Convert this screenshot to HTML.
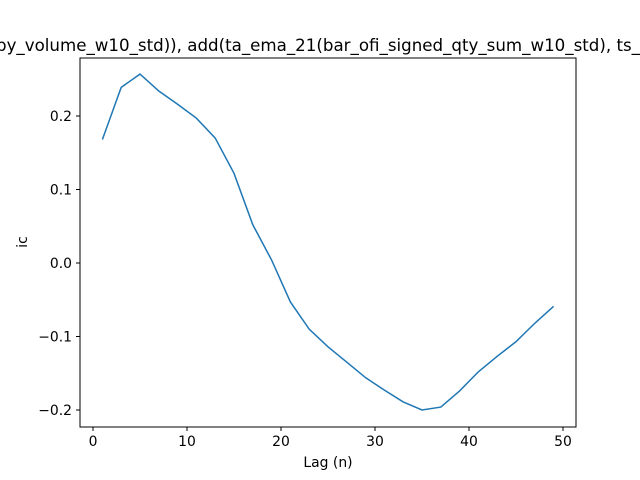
<!DOCTYPE html>
<html><head><meta charset="utf-8"><style>body{margin:0;background:#fff}svg{display:block}</style></head>
<body>
<svg id="chart" width="640" height="480" xmlns="http://www.w3.org/2000/svg" font-family="DejaVu Sans, Liberation Sans, sans-serif">
<rect width="640" height="480" fill="#fff"/>
<text x="-4" y="51" font-size="16.7" textLength="644" lengthAdjust="spacingAndGlyphs">by_volume_w10_std)), add(ta_ema_21(bar_ofi_signed_qty_sum_w10_std), ts_</text>
<g id="plot"></g>
<rect x="80" y="58" width="496" height="369" fill="none" stroke="#000" stroke-width="1"/>
<text x="328" y="467" font-size="13.9" text-anchor="middle">Lag (n)</text>
<text x="27" y="242" font-size="13.9" text-anchor="middle" transform="rotate(-90 27 242)">ic</text>
</svg>
<script>
const lags=[1,3,5,7,9,11,13,15,17,19,21,23,25,27,29,31,33,35,37,39,41,43,45,47,49];
const ic=[0.168,0.239,0.257,0.234,0.216,0.197,0.170,0.122,0.052,0.004,-0.053,-0.090,-0.114,-0.135,-0.156,-0.173,-0.189,-0.200,-0.196,-0.174,-0.148,-0.127,-0.107,-0.082,-0.059];
const xTicks=[0,10,20,30,40,50];
const yTicks=[-0.2,-0.1,0.0,0.1,0.2];
const xs=v=>93+v*9.4;
const ys=v=>263-v*735;
const NS="http://www.w3.org/2000/svg";
const g=document.getElementById('plot');
function mk(t,a){const e=document.createElementNS(NS,t);for(const k in a)e.setAttribute(k,a[k]);g.appendChild(e);return e;}
xTicks.forEach(t=>{
 const l=mk('line',{x1:xs(t),x2:xs(t),y1:427,y2:431,stroke:'#000'});
 
 
 const s=mk('text',{x:xs(t),y:446,'font-size':13.9,'text-anchor':'middle'});
 s.textContent=t;
 
 
});
yTicks.forEach(t=>{
 const l=mk('line',{x1:76,x2:80,y1:ys(t),y2:ys(t),stroke:'#000'});
 
 
 const s=mk('text',{x:72,y:ys(t)+5,'font-size':13.9,'text-anchor':'end'});
 s.textContent=(t<0?'\u2212':'')+Math.abs(t).toFixed(1);
 
 
});
const p=mk('polyline',{points:lags.map((x,i)=>xs(x)+','+ys(ic[i])).join(' '),fill:'none',stroke:'#1f77b4','stroke-width':1.5});


</script>
</body></html>
